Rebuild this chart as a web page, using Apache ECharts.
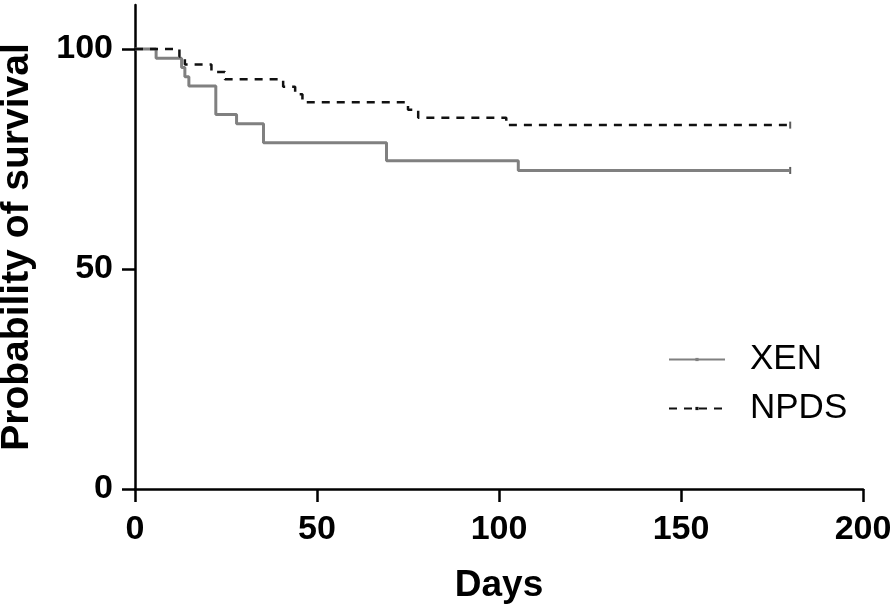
<!DOCTYPE html>
<html>
<head>
<meta charset="utf-8">
<script src="https://cdn.jsdelivr.net/npm/echarts@6/dist/echarts.min.js"></script>
<style>
  html, body { margin: 0; padding: 0; background: #fff; }
  #main { width: 896px; height: 613px; }
</style>
</head>
<body>
<div id="main"></div>
<script>
// Kaplan-Meier steps: [day, survival %]
var xenDays = [0, 5.8, 12.8, 13.7, 14.8, 22.2, 27.9, 35.3, 69.1, 105.3, 180];
var xenSurv = [100, 97.9, 95.8, 93.7, 91.6, 85.1, 83.0, 78.7, 74.6, 72.4, 72.4];
var npdsDays = [0, 12.2, 13.7, 21.0, 24.7, 40.7, 44.0, 46.0, 75.0, 77.8, 102.0, 180];
var npdsSurv = [100, 98.3, 96.5, 94.8, 93.1, 91.4, 89.7, 87.9, 86.2, 84.4, 82.7, 82.7];
var xTicks = [0, 50, 100, 150, 200];
var yTicks = [0, 50, 100];

var chartDom = document.getElementById("main");
var myChart = echarts.init(chartDom);

var pairs = function (xs, ys) {
  return xs.map(function (x, i) { return [x, ys[i]]; });
};
var last = function (arr) { return arr[arr.length - 1]; };

var font = '"Liberation Sans", Arial, Helvetica, sans-serif';

var option = {
  animation: false,
  backgroundColor: "#fff",
  grid: { left: 135, right: 33, top: 5, bottom: 124, containLabel: false, outerBoundsMode: "none" },
  legend: {
    data: ["XEN", "NPDS"],
    orient: "vertical",
    left: 663,
    top: 337,
    itemWidth: 56,
    itemHeight: 4,
    itemGap: 14,
    textStyle: {
      fontFamily: font,
      fontSize: 35,
      color: "#000",
      padding: [0, 0, 0, 20]
    }
  },
  xAxis: {
    type: "value",
    min: 0,
    max: 200,
    interval: 50,
    name: "Days",
    nameLocation: "middle",
    nameMoveOverlap: false,
    nameGap: 78,
    nameTextStyle: { fontFamily: font, fontWeight: "bold", fontSize: 37, color: "#000" },
    splitLine: { show: false },
    axisLine: { onZero: false, lineStyle: { color: "#000", width: 2.5 } },
    axisTick: { show: true, length: 13, lineStyle: { color: "#000", width: 2.5 }, customValues: xTicks },
    axisLabel: {
      margin: 24,
      fontFamily: font,
      fontWeight: "bold",
      fontSize: 34,
      color: "#000",
      customValues: xTicks
    }
  },
  yAxis: {
    type: "value",
    min: 0,
    max: 110,
    name: "Probability of survival",
    nameLocation: "middle",
    nameMoveOverlap: false,
    nameGap: 98,
    nameTextStyle: { fontFamily: font, fontWeight: "bold", fontSize: 39, color: "#000" },
    splitLine: { show: false },
    axisLine: { show: true, onZero: false, lineStyle: { color: "#000", width: 2.5 } },
    axisTick: { show: true, length: 13, lineStyle: { color: "#000", width: 2.5 }, customValues: yTicks },
    axisLabel: {
      margin: 22,
      fontFamily: font,
      fontWeight: "bold",
      fontSize: 34,
      color: "#000",
      customValues: yTicks
    }
  },
  series: [
    {
      name: "XEN",
      type: "line",
      step: "end",
      symbol: "rect",
      symbolSize: [2, 6],
      showSymbol: false,
      data: pairs(xenDays, xenSurv),
      lineStyle: { color: "#808080", width: 3 },
      itemStyle: { color: "#808080" },
      z: 3
    },
    {
      name: "NPDS",
      type: "line",
      step: "end",
      symbol: "rect",
      symbolSize: [2, 6],
      showSymbol: false,
      data: pairs(npdsDays, npdsSurv),
      lineStyle: { color: "#111", width: 2.5, type: [8, 7] },
      itemStyle: { color: "#111" },
      z: 4
    },
    {
      name: "censor",
      type: "scatter",
      symbol: "rect",
      symbolSize: [2, 7],
      data: [[last(xenDays), last(xenSurv)], [last(npdsDays), last(npdsSurv)]],
      itemStyle: { color: "#333" },
      silent: true
    }
  ]
};

option && myChart.setOption(option);
</script>
</body>
</html>
